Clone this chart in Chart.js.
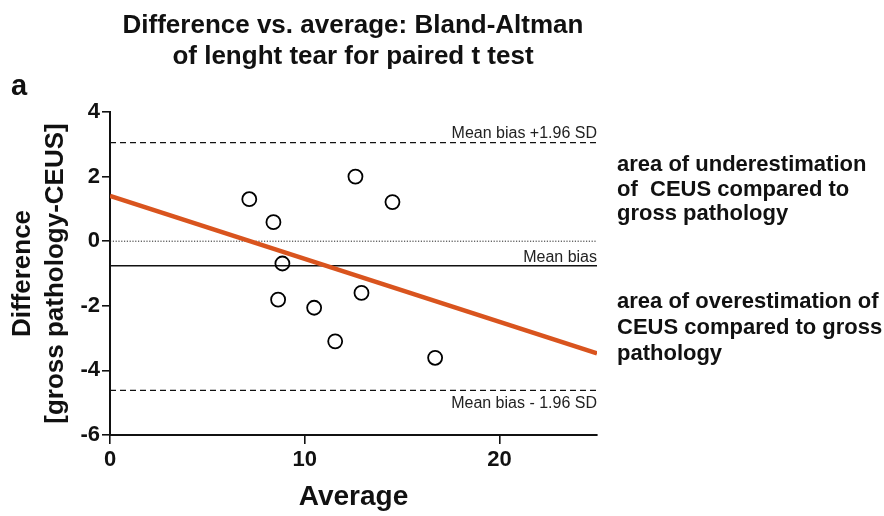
<!DOCTYPE html>
<html>
<head>
<meta charset="utf-8">
<script src="https://cdn.jsdelivr.net/npm/chart.js@4/dist/chart.umd.min.js"></script>
<style>
  html, body { margin: 0; padding: 0; background: #fff; }
  #wrap { position: relative; width: 884px; height: 516px; overflow: hidden; font-family: "Liberation Sans", Arial, sans-serif; color: #111; }
  canvas { position: absolute; left: 0; top: 0; }
  .title { position: absolute; left: 103px; width: 500px; top: 9px; text-align: center; font-weight: bold; font-size: 26px; line-height: 31px; }
  .panel { position: absolute; left: 11px; top: 70.5px; font-weight: bold; font-size: 29px; line-height: 29px; }
  .note { position: absolute; left: 617px; font-weight: bold; font-size: 22px; white-space: pre; }
</style>
</head>
<body>
<div id="wrap">
  <canvas id="c" width="884" height="516"></canvas>
  <div class="title">Difference vs. average: Bland-Altman<br>of lenght tear for paired t test</div>
  <div class="panel">a</div>
  <div class="note" style="top:152px; line-height:24.5px;">area of underestimation
of  CEUS compared to
gross pathology</div>
  <div class="note" style="top:287.5px; line-height:26px;">area of overestimation of
CEUS compared to gross
pathology</div>
</div>
<script>
// ---- data ----
const averages    = [7.15, 8.39, 8.85, 8.63, 10.48, 11.56, 12.60, 12.91, 14.50, 16.69];
const differences = [1.30, 0.59, -0.69, -1.81, -2.06, -3.10, 2.00, -1.60, 1.21, -3.61];
const meanBias = -0.76;
const upperLoA = 3.05;
const lowerLoA = -4.62;
const zeroLine = 0;
const regressionX = [0, 25];
const regressionY = [1.40, -3.47];
const xRange = [0, 25];
const yRange = [-6, 4];
const xTicks = [0, 10, 20];
const yTicks = [-6, -4, -2, 0, 2, 4];
const lineLabels = ["Mean bias +1.96 SD", "Mean bias", "Mean bias - 1.96 SD"];

const FONT = '"Liberation Sans", Arial, sans-serif';
const hline = v => xRange.map(x => ({x: x, y: v}));

const labelPlugin = {
  id: 'lineLabels',
  afterDatasetsDraw(chart) {
    const {ctx, chartArea, scales} = chart;
    const y = scales.y;
    ctx.save();
    ctx.font = '16px ' + FONT;
    ctx.fillStyle = '#222';
    ctx.textAlign = 'right';
    ctx.textBaseline = 'alphabetic';
    const r = chartArea.right;
    ctx.fillText(lineLabels[0], r, y.getPixelForValue(upperLoA) - 5);
    ctx.fillText(lineLabels[1], r, y.getPixelForValue(meanBias) - 4);
    ctx.fillText(lineLabels[2], r, y.getPixelForValue(lowerLoA) + 18);
    ctx.restore();
  }
};

new Chart(document.getElementById('c'), {
  type: 'scatter',
  data: {
    datasets: [
      { label: 'points', data: averages.map((a, i) => ({x: a, y: differences[i]})),
        pointStyle: 'circle', pointRadius: 7, pointHoverRadius: 7,
        backgroundColor: 'rgba(255,255,255,0)', borderColor: '#000', borderWidth: 1.8 },
      { label: 'regression', type: 'line', data: regressionX.map((x, i) => ({x: x, y: regressionY[i]})),
        borderColor: '#d9541e', borderWidth: 4.5, pointRadius: 0, fill: false, tension: 0 },
      { label: 'upper', type: 'line', data: hline(upperLoA), borderColor: '#111', borderWidth: 1.3,
        borderDash: [6, 4], pointRadius: 0, fill: false },
      { label: 'mean', type: 'line', data: hline(meanBias), borderColor: '#111', borderWidth: 1.5,
        pointRadius: 0, fill: false },
      { label: 'lower', type: 'line', data: hline(lowerLoA), borderColor: '#111', borderWidth: 1.3,
        borderDash: [6, 4], pointRadius: 0, fill: false },
      { label: 'zero', type: 'line', data: hline(zeroLine), borderColor: '#222', borderWidth: 1,
        borderDash: [1.2, 1.6], pointRadius: 0, fill: false }
    ]
  },
  options: {
    responsive: false,
    animation: false,
    events: [],
    layout: { padding: { top: 112, left: 0, right: 287, bottom: 0 } },
    plugins: { legend: { display: false }, tooltip: { enabled: false }, title: { display: false } },
    scales: {
      x: {
        type: 'linear', min: xRange[0], max: xRange[1],
        afterFit: s => { s.height = 81; },
        afterBuildTicks: s => { s.ticks = xTicks.map(v => ({value: v})); },
        border: { display: true, color: '#111', width: 2 },
        grid: { display: true, drawOnChartArea: false, drawTicks: true, tickLength: 9, color: '#111', lineWidth: 1.6 },
        ticks: { color: '#111', font: { family: FONT, size: 22, weight: 'bold' }, padding: 3, maxRotation: 0 },
        title: { display: true, text: 'Average', color: '#111', font: { family: FONT, size: 28, weight: 'bold' }, padding: { top: 0, bottom: 2 } }
      },
      y: {
        type: 'linear', min: yRange[0], max: yRange[1],
        afterFit: s => { s.width = 110; },
        afterBuildTicks: s => { s.ticks = yTicks.map(v => ({value: v})); },
        border: { display: true, color: '#111', width: 2 },
        grid: { display: true, drawOnChartArea: false, drawTicks: true, tickLength: 8, color: '#111', lineWidth: 1.6 },
        ticks: { color: '#111', font: { family: FONT, size: 22, weight: 'bold' }, padding: 2 },
        title: { display: true, text: ['Difference', '[gross pathology-CEUS]'], color: '#111',
                 font: { family: FONT, size: 26, weight: 'bold', lineHeight: 1.25 }, padding: { top: 7, bottom: 0 } }
      }
    }
  },
  plugins: [labelPlugin]
});
</script>
</body>
</html>
